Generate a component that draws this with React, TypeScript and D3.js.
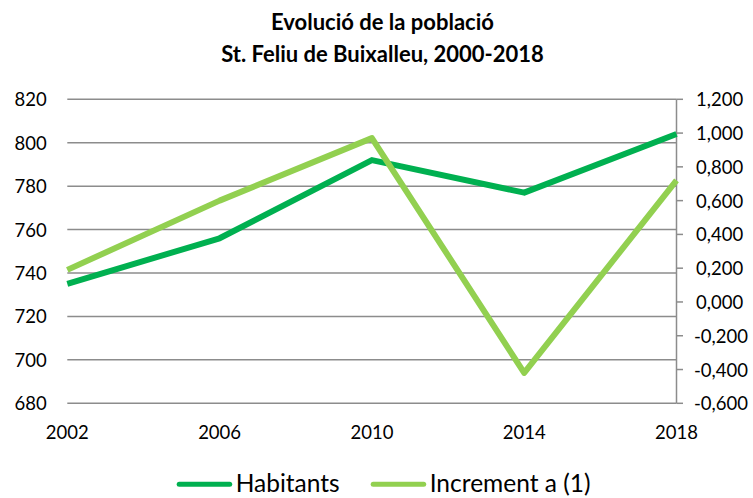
import React from "react";
import * as d3 from "d3";

const years = [2002, 2006, 2010, 2014, 2018];
const habitants = [735, 756, 792, 777, 804];
const increment = [0.19, 0.6, 0.97, -0.42, 0.72];
const leftTicks = [680, 700, 720, 740, 760, 780, 800, 820];
const rightTicks = [-0.6, -0.4, -0.2, 0, 0.2, 0.4, 0.6, 0.8, 1.0, 1.2];
const titleLines = ["Evolució de la població", "St. Feliu de Buixalleu, 2000-2018"];
const seriesNames = ["Habitants", "Increment a (1)"];
const seriesColors = ["#00B050", "#92D050"];

const W = 753;
const H = 498;
const FONT = "Lato, 'Open Sans', sans-serif";

export default function App() {
  const left = 67.3;
  const right = 676.5;
  const top = 99.3;
  const bottom = 403.3;

  const x = d3.scaleLinear().domain([2002, 2018]).range([left, right]);
  const yL = d3.scaleLinear().domain([680, 820]).range([bottom, top]);
  const yR = d3.scaleLinear().domain([-0.6, 1.2]).range([bottom, top]);

  const loc = d3.formatLocale({ decimal: ",", thousands: ".", grouping: [3], currency: ["", ""], minus: "-" });
  const fmtR = loc.format(".3f");

  const lineL = d3
    .line<number>()
    .x((_, i) => x(years[i]))
    .y((d) => yL(d));
  const lineR = d3
    .line<number>()
    .x((_, i) => x(years[i]))
    .y((d) => yR(d));

  const legendItems = [
    { name: seriesNames[0], color: seriesColors[0], x0: 176.7 },
    { name: seriesNames[1], color: seriesColors[1], x0: 370.7 },
  ];

  return (
    <svg
      width={W}
      height={H}
      style={{ position: "absolute", left: 0, top: 0, background: "#fff" }}
      fontFamily={FONT}
    >
      <rect x={0} y={0} width={W} height={H} fill="#fff" />
      {/* title */}
      {titleLines.map((t, i) => (
        <text
          key={t}
          x={382.5}
          y={30 + i * 31.7}
          textAnchor="middle"
          fontWeight="bold"
          fontSize={22}
          fill="#000"
        >
          {t}
        </text>
      ))}
      {/* gridlines */}
      {leftTicks.map((t) => (
        <line key={t} x1={left} x2={right} y1={yL(t)} y2={yL(t)} stroke="#8c8c8c" strokeWidth={1.5} />
      ))}
      {/* left labels */}
      {leftTicks.map((t) => (
        <text key={"l" + t} x={46.7} y={yL(t) + 7} textAnchor="end" fontSize={18.5} fill="#000">
          {t}
        </text>
      ))}
      {/* right axis */}
      <line x1={right} x2={right} y1={top} y2={bottom} stroke="#8c8c8c" strokeWidth={1.5} />
      {rightTicks.map((t) => (
        <g key={"r" + t}>
          <line x1={right} x2={right + 6.5} y1={yR(t)} y2={yR(t)} stroke="#8c8c8c" strokeWidth={1.5} />
          <text x={t < 0 ? 694 : 696} y={yR(t) + 7} textAnchor="start" fontSize={18.5} fill="#000">
            {fmtR(t)}
          </text>
        </g>
      ))}
      {/* x labels */}
      {years.map((yv) => (
        <text key={"x" + yv} x={x(yv)} y={439} textAnchor="middle" fontSize={18.5} fill="#000">
          {yv}
        </text>
      ))}
      {/* lines */}
      <path d={lineL(habitants) || ""} fill="none" stroke={seriesColors[0]} strokeWidth={6} strokeLinejoin="round" />
      <path d={lineR(increment) || ""} fill="none" stroke={seriesColors[1]} strokeWidth={6} strokeLinejoin="round" />
      {/* legend */}
      {legendItems.map((it) => (
        <g key={it.name}>
          <line
            x1={it.x0 + 2.5}
            x2={it.x0 + 53}
            y1={484.3}
            y2={484.3}
            stroke={it.color}
            strokeWidth={5}
            strokeLinecap="round"
          />
          <text x={it.x0 + 59} y={491.7} fontSize={24.5} fill="#000">
            {it.name}
          </text>
        </g>
      ))}
    </svg>
  );
}
